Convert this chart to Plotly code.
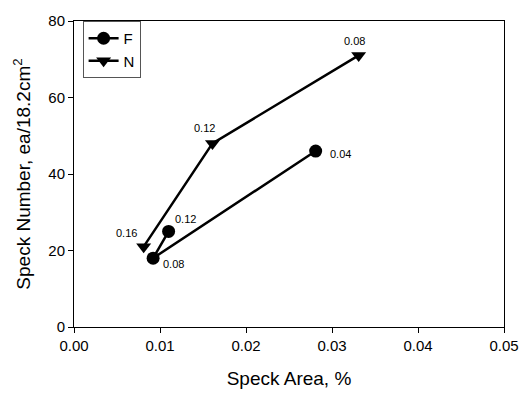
import plotly.graph_objects as go

# Data
f_area = [0.0281, 0.0092, 0.0110]
f_number = [46, 18, 25]
f_labels = ["0.04", "0.08", "0.12"]

n_area = [0.0331, 0.0161, 0.0081]
n_number = [71, 48, 21]
n_labels = ["0.08", "0.12", "0.16"]

x_ticks = [0.00, 0.01, 0.02, 0.03, 0.04, 0.05]
y_ticks = [0, 20, 40, 60, 80]

FONT = "Liberation Sans, Arial, sans-serif"

fig = go.Figure()
fig.add_trace(go.Scatter(
    x=f_area, y=f_number, mode="lines+markers", name="F",
    line=dict(color="black", width=2.5),
    marker=dict(symbol="circle", size=13, color="black"),
))
fig.add_trace(go.Scatter(
    x=n_area, y=n_number, mode="lines+markers", name="N",
    line=dict(color="black", width=2.5),
    marker=dict(symbol="triangle-down", size=13, color="black"),
))

# label offsets (pixels)
f_off = [(25, 3), (20, 6), (17, -12)]
n_off = [(-4, -14), (-8, -15), (-17, -14)]
ann = []
for xs, ys, labs, offs in [(f_area, f_number, f_labels, f_off), (n_area, n_number, n_labels, n_off)]:
    for x, y, t, (dx, dy) in zip(xs, ys, labs, offs):
        ann.append(dict(x=x, y=y, text=t, showarrow=False, xshift=dx, yshift=-dy,
                        font=dict(family=FONT, size=11, color="black")))

fig.update_layout(
    width=531, height=397,
    margin=dict(l=74, r=18, t=12, b=69),
    paper_bgcolor="white", plot_bgcolor="white",
    font=dict(family=FONT, color="black"),
    showlegend=True,
    legend=dict(x=0.02, y=1.0, xanchor="left", yanchor="top",
                bordercolor="#555", borderwidth=1, bgcolor="white",
                font=dict(family=FONT, size=15), tracegroupgap=0,
                itemsizing="trace"),
    annotations=ann,
)
fig.update_xaxes(
    range=[0, 0.05], tickvals=x_ticks, ticktext=[f"{v:.2f}" for v in x_ticks],
    showgrid=False, zeroline=False, showline=True, linecolor="black", linewidth=1,
    mirror=True, ticks="outside", ticklen=5, tickcolor="black",
    tickfont=dict(family=FONT, size=15),
    title=dict(text="Speck Area, %", font=dict(family=FONT, size=19), standoff=18),
)
fig.update_yaxes(
    range=[0, 80], tickvals=y_ticks,
    showgrid=False, zeroline=False, showline=True, linecolor="black", linewidth=1,
    mirror=True, ticks="outside", ticklen=5, tickcolor="black",
    tickfont=dict(family=FONT, size=15),
    title=dict(text="Speck Number, ea/18.2cm<sup>2</sup>", font=dict(family=FONT, size=19), standoff=12),
)

fig.write_html("out.html")
